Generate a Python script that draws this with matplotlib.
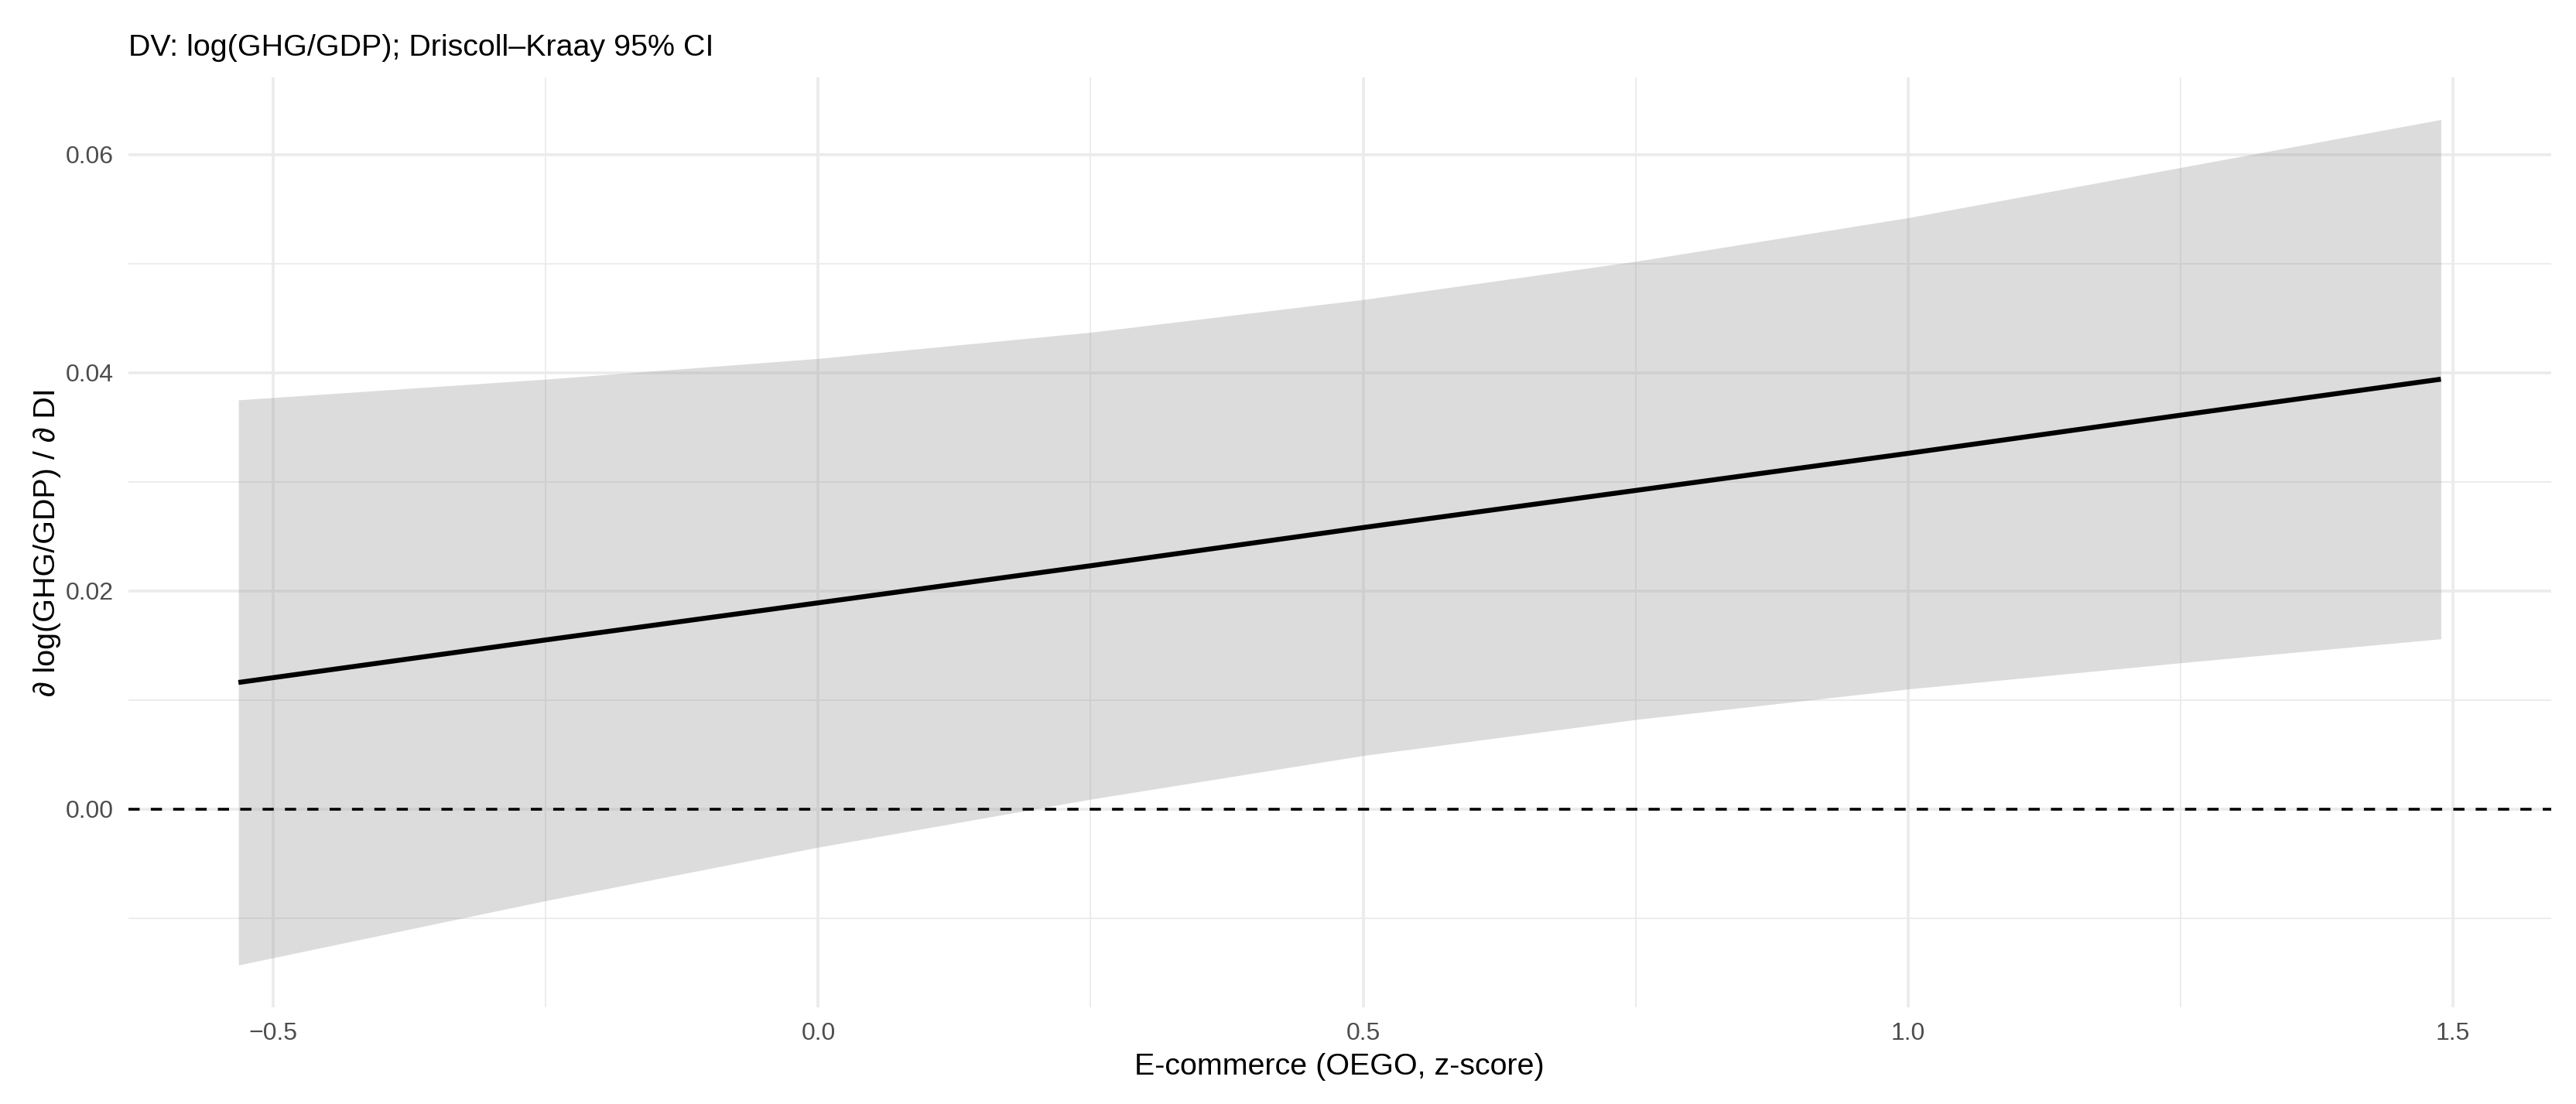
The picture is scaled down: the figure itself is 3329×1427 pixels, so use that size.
import numpy as np
import matplotlib.pyplot as plt

# Marginal effect of DI on log(GHG/GDP) across e-commerce (OEGO z-score)
oego = [-0.532, -0.25, 0.0, 0.25, 0.5, 0.75, 1.0, 1.25, 1.489]
effect = [0.0116, 0.0155, 0.0189, 0.0223, 0.0258, 0.0292, 0.0326, 0.0361, 0.0394]
ci_low = [-0.0143, -0.0084, -0.0035, 0.0009, 0.0049, 0.0082, 0.0110, 0.0134, 0.0156]
ci_high = [0.0375, 0.0394, 0.0413, 0.0437, 0.0467, 0.0502, 0.0542, 0.0588, 0.0632]

x_ticks = [-0.5, 0.0, 0.5, 1.0, 1.5]
x_minor = [-0.25, 0.25, 0.75, 1.25]
y_ticks = [0.00, 0.02, 0.04, 0.06]
y_minor = [-0.01, 0.01, 0.03, 0.05]

plt.rcParams['font.family'] = ['Liberation Sans', 'DejaVu Sans']

fig = plt.figure(figsize=(16.65, 7.135), dpi=200)
ax = fig.add_axes([0.0498, 0.0876, 0.9402, 0.8424])

# ggplot-like expansion of 5%
xr = oego[-1] - oego[0]
yr = max(ci_high) - min(ci_low)
ax.set_xlim(oego[0] - 0.05 * xr, oego[-1] + 0.05 * xr)
ax.set_ylim(min(ci_low) - 0.05 * yr, max(ci_high) + 0.05 * yr)

# grid (theme_minimal)
for v in x_ticks:
    ax.axvline(v, color='#EBEBEB', lw=1.3, zorder=0)
for v in x_minor:
    ax.axvline(v, color='#EBEBEB', lw=0.65, zorder=0)
for v in y_ticks:
    ax.axhline(v, color='#EBEBEB', lw=1.3, zorder=0)
for v in y_minor:
    ax.axhline(v, color='#EBEBEB', lw=0.65, zorder=0)

ax.fill_between(oego, ci_low, ci_high, color='#999999', alpha=0.34, lw=0, zorder=1)
ax.axhline(0, color='black', lw=1.3, linestyle=(0, (4, 4)), zorder=2)
ax.plot(oego, effect, color='black', lw=2.3, solid_capstyle='butt', zorder=3)

ax.set_xticks(x_ticks)
ax.set_xticklabels(['\u22120.5', '0.0', '0.5', '1.0', '1.5'])
ax.set_yticks(y_ticks)
ax.set_yticklabels(['0.00', '0.02', '0.04', '0.06'])
ax.tick_params(length=0, labelsize=11.5, labelcolor='#4D4D4D', pad=7)
for s in ax.spines.values():
    s.set_visible(False)

ax.set_xlabel('E-commerce (OEGO, z-score)', fontsize=14.2, labelpad=3.5)
ax.set_ylabel('\u2202 log(GHG/GDP) / \u2202 DI', fontsize=14.2, labelpad=2)
ax.set_title('DV: log(GHG/GDP); Driscoll\u2013Kraay 95% CI', fontsize=14.2, loc='left', pad=10)

fig.savefig('out.png', dpi=200)
